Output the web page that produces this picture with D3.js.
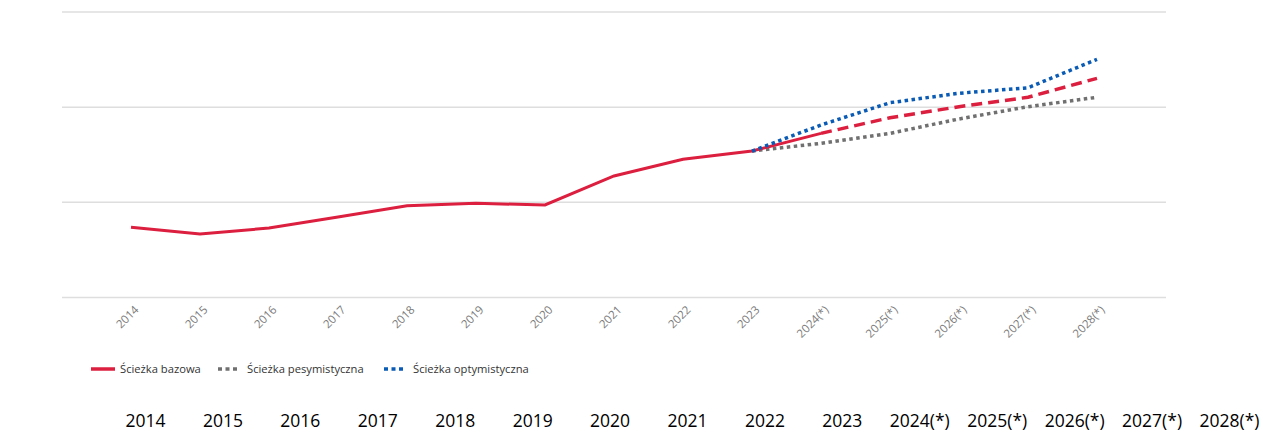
<!DOCTYPE html>
<html>
<head>
<meta charset="utf-8">
<script src="https://cdn.jsdelivr.net/npm/d3@7"></script>
<style>
  body { margin: 0; background: #fff; }
  svg { display: block; }
</style>
</head>
<body>
<div id="chart"></div>
<script>
// categories (years) and the three paths
var years = ["2014", "2015", "2016", "2017", "2018", "2019", "2020", "2021", "2022", "2023",
  "2024(*)", "2025(*)", "2026(*)", "2027(*)", "2028(*)"];

// historical + base path (base continues dashed after 2024)
var baseValues = [0.738, 0.667, 0.730, 0.846, 0.965, 0.990, 0.972, 1.277, 1.452, 1.539,
  1.725, 1.889, 2.005, 2.104, 2.303];
// pessimistic / optimistic start from 2023
var pessValues = [null, null, null, null, null, null, null, null, null, 1.539,
  1.620, 1.725, 1.876, 2.005, 2.104];
var optValues = [null, null, null, null, null, null, null, null, null, 1.539,
  1.813, 2.047, 2.146, 2.204, 2.503];

var gridTicks = [0, 1, 2, 3];
var legendLabels = ["Ścieżka bazowa", "Ścieżka pesymistyczna", "Ścieżka optymistyczna"];

var svgWidth = 1263;
var svgHeight = 437;

var margin = { top: 12, right: 97, bottom: 139.5, left: 62 };
var width = svgWidth - margin.left - margin.right;
var height = svgHeight - margin.top - margin.bottom;

var svg = d3.select("#chart")
  .append("svg")
  .attr("width", svgWidth)
  .attr("height", svgHeight);

var chartGroup = svg.append("g")
  .attr("transform", `translate(${margin.left}, ${margin.top})`);

// scales
var xScale = d3.scalePoint()
  .domain(years)
  .range([0, width])
  .padding(1);

var yScale = d3.scaleLinear()
  .domain([0, 3])
  .range([height, 0]);

// gridlines
chartGroup.append("g")
  .selectAll("line")
  .data(gridTicks)
  .enter()
  .append("line")
  .attr("x1", 0)
  .attr("x2", width)
  .attr("y1", d => yScale(d))
  .attr("y2", d => yScale(d))
  .attr("stroke", "#dedede")
  .attr("stroke-width", 1.5);

// x axis, rotated labels
var bottomAxis = d3.axisBottom(xScale).tickSize(0).tickPadding(0);
var xAxis = chartGroup.append("g")
  .attr("transform", `translate(0, ${height})`)
  .call(bottomAxis);
xAxis.select(".domain").remove();
xAxis.selectAll("text")
  .attr("font-family", "'Open Sans', sans-serif")
  .attr("font-size", "11.5px")
  .attr("fill", "#7a7a7a")
  .attr("text-anchor", "end")
  .attr("dy", 0)
  .attr("transform", "translate(8, 13) rotate(-45)");

// line generator
var line = d3.line()
  .defined(d => d.v != null)
  .x(d => xScale(d.year))
  .y(d => yScale(d.v));

function toPoints(values) {
  return years.map(function(y, i) { return { year: y, v: values[i] }; });
}

var basePts = toPoints(baseValues);
var histPts = basePts.slice(0, 11);
var projPts = basePts.slice(10);

// pessimistic (grey dotted)
chartGroup.append("path")
  .datum(toPoints(pessValues))
  .attr("d", line)
  .attr("fill", "none")
  .attr("stroke", "#707070")
  .attr("stroke-width", 3.5)
  .attr("stroke-dasharray", "3.5,3.5");

// base path
chartGroup.append("path")
  .datum(histPts)
  .attr("d", line)
  .attr("fill", "none")
  .attr("stroke", "#dc1e3f")
  .attr("stroke-width", 3);

chartGroup.append("path")
  .datum(projPts)
  .attr("d", line)
  .attr("fill", "none")
  .attr("stroke", "#dc1e3f")
  .attr("stroke-width", 3.5)
  .attr("stroke-dasharray", "11,6");

// optimistic (blue dotted)
chartGroup.append("path")
  .datum(toPoints(optValues))
  .attr("d", line)
  .attr("fill", "none")
  .attr("stroke", "#0a5bb5")
  .attr("stroke-width", 3.5)
  .attr("stroke-dasharray", "3.5,3.5");

// legend
var legendItems = [
  { label: legendLabels[0], color: "#dc1e3f", dash: null, x: 91 },
  { label: legendLabels[1], color: "#707070", dash: "4,3.5", x: 218 },
  { label: legendLabels[2], color: "#0a5bb5", dash: "4,3.5", x: 384 }
];
var legend = svg.append("g").attr("transform", "translate(0, 369)");
legendItems.forEach(function(item) {
  legend.append("line")
    .attr("x1", item.x)
    .attr("x2", item.dash ? item.x + 19 : item.x + 24)
    .attr("y1", 0)
    .attr("y2", 0)
    .attr("stroke", item.color)
    .attr("stroke-width", 3.5)
    .attr("stroke-dasharray", item.dash);
  legend.append("text")
    .attr("x", item.dash ? item.x + 29 : item.x + 29)
    .attr("y", 4)
    .attr("font-family", "'Open Sans', sans-serif")
    .attr("font-size", "11.2px")
    .attr("fill", "#333")
    .text(item.label);
});

// bottom row of year labels
var rowScale = d3.scalePoint()
  .domain(years)
  .range([145.5, 1229.5]);

svg.append("g")
  .selectAll("text")
  .data(years)
  .enter()
  .append("text")
  .attr("x", d => rowScale(d))
  .attr("y", 427)
  .attr("text-anchor", "middle")
  .attr("font-family", "'Open Sans', sans-serif")
  .attr("font-size", "17.5px")
  .attr("fill", "#000")
  .text(d => d);
</script>
</body>
</html>
